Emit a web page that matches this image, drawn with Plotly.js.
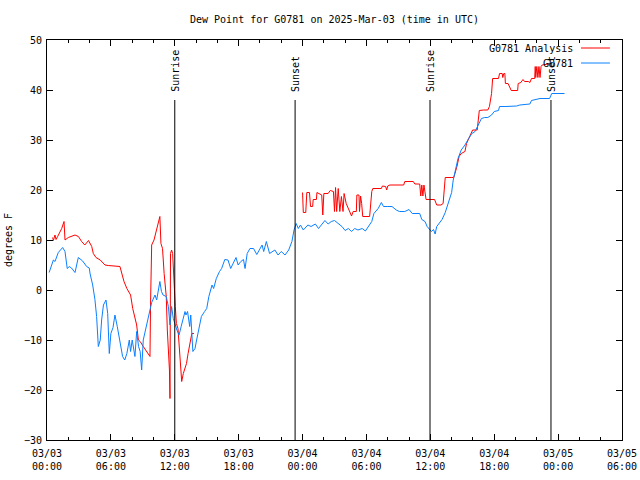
<!DOCTYPE html>
<html>
<head>
<meta charset="utf-8">
<script src="https://cdn.plot.ly/plotly-3.0.1.min.js"></script>
<style>html,body{margin:0;padding:0;background:#fff;}#chart{width:640px;height:480px;}</style>
</head>
<body>
<div id="chart"></div>
<script>
// Hours since 2025-03-03 00:00 UTC
const tickHours = [0, 6, 12, 18, 24, 30, 36, 42, 48, 54];
const tickLabels = ["03/03<br>00:00","03/03<br>06:00","03/03<br>12:00","03/03<br>18:00","03/04<br>00:00","03/04<br>06:00","03/04<br>12:00","03/04<br>18:00","03/05<br>00:00","03/05<br>06:00"];

const eventNames = ["Sunrise", "Sunset", "Sunrise", "Sunset"];
const eventHours = [12.0, 23.3, 35.97, 47.33];

const analysisName = "G0781 Analysis";
const analysisHours = [0.53,0.6,0.75,0.85,1.0,1.38,1.6,1.69,2.0,2.63,2.95,3.25,3.55,3.9,4.2,4.35,4.6,5.0,5.45,5.75,6.85,7.0,7.23,7.5,7.73,7.85,8.05,8.26,8.42,8.58,8.75,9.04,9.35,9.67,9.73,9.83,10.05,10.3,10.55,10.6,10.7,10.85,11.0,11.2,11.3,11.5,11.55,11.58,11.6,11.7,11.8,12.05,12.15,12.3,12.4,12.55,12.65,12.8,12.95,13.1,13.25,13.4,13.6,13.8,
  18.0,
  24.0,24.07,24.3,24.4,24.65,24.75,24.95,25.0,25.3,25.35,25.8,25.9,26.0,26.4,26.6,26.9,27.0,27.1,27.2,27.35,27.5,27.65,27.8,27.9,28.1,28.3,28.5,28.6,28.75,29.05,29.1,29.3,29.35,29.45,29.55,29.65,30.3,30.5,30.6,31.4,31.5,31.8,31.9,32.0,32.2,33.5,33.6,34.4,34.55,35.0,35.1,35.2,35.3,35.4,35.6,36.4,36.6,37.0,37.2,37.4,38.0,38.2,38.5,38.7,38.9,39.25,39.4,39.55,39.7,39.97,40.4,40.5,40.6,41.0,41.4,41.55,41.75,41.85,42.4,42.5,42.75,42.8,42.9,43.0,43.05,43.3,43.6,44.2,44.25,44.5,44.7,44.85,45.2,45.35,45.5,45.8,45.85,45.9,46.0,46.1,46.2,46.3,46.4,46.5,47.2,47.35];
const analysisDew = [10.5,9.9,11,10.1,10.7,12.3,13.7,10,10.5,11,10.7,9.7,9,9.9,8.7,7.3,6.5,6,5,4.9,4.7,3.3,1.7,0.3,-0.7,-1,-3.7,-5.3,-7,-10,-10.3,-11.3,-12.3,-13.3,-2,9,10,12,14,14.7,9.3,8.3,3.3,-1.3,-8,-16,-21.7,-13.3,7.3,8,7.3,-3.3,-6.7,-7.7,-10.7,-16.7,-18.3,-16.7,-15.7,-14.7,-12.7,-10.7,-8.7,-8.7,
  null,
  19.5,15.5,15.5,19.5,19.5,16.7,16.7,18.1,18.1,19.5,19.0,15,19.3,19.3,19.9,19.7,15.7,20.5,15.7,20.3,15.7,18.7,15.7,19.3,17.3,16.3,15.5,14.8,15.7,15.7,19,19,15.7,18.8,17.3,14.7,14.7,19.7,20.3,20.3,20.8,20.7,20,20.8,21,21,21.7,21.7,21.2,21.2,18.8,21,18.8,21,18.1,18.1,17,17,17.3,22.5,22.5,22.5,24.7,26.7,27.3,27.7,29.3,30,31,32,32,34,35.9,36,36,36.7,39.3,42.3,42.3,43.3,43.3,42.5,43.3,43.3,41.3,41.3,39.9,39.9,41.3,41.5,42.1,41.7,41.7,41.5,42.3,42.3,44.7,42.5,44.7,42.5,44.7,42.5,44.7,45,45.3,45.3];

const obsName = "G0781";
const obsHours = [0.2,0.6,0.75,1.06,1.47,1.69,1.9,2.1,2.3,2.63,2.94,3.35,3.72,3.97,4.05,4.29,4.5,4.66,4.82,5.0,5.13,5.3,5.54,5.7,5.85,6.0,6.2,6.38,6.6,6.85,7.1,7.3,7.5,7.73,7.85,8.0,8.26,8.42,8.6,8.75,8.89,9.04,9.3,9.5,9.83,10.14,10.3,10.6,10.75,10.9,11.2,11.4,11.55,11.7,11.86,12.2,12.4,12.6,12.8,12.96,13.05,13.2,13.4,13.5,13.7,13.9,14.05,14.3,14.5,14.8,15.0,15.2,15.5,15.65,15.9,16.2,16.4,16.7,17.0,17.25,17.5,17.75,17.95,18.2,18.45,18.6,18.8,19.06,19.4,19.7,20.2,20.35,20.6,20.9,21.4,21.7,22.0,22.35,22.7,23.0,23.2,23.4,23.6,23.8,24.07,24.5,24.8,25.2,25.5,25.8,26.1,26.4,26.7,27.0,27.4,27.7,28.0,28.3,28.6,28.9,29.2,29.6,29.9,30.2,30.5,30.7,31.1,31.4,31.6,32.0,32.4,32.8,33.1,33.6,34.0,34.3,35.0,35.2,35.5,35.7,35.96,36.1,36.3,36.45,36.6,36.9,37.1,37.4,37.6,37.8,38.0,38.15,38.4,38.6,38.9,39.25,39.6,39.9,40.2,40.5,40.8,41.1,41.4,41.75,42.0,42.4,42.5,43.1,44.1,44.4,45.35,45.5,46.1,46.3,47.2,47.4,48.6];
const obsDew = [3.5,6,5.7,7.5,8.5,7.7,4.3,4.7,4.4,3.5,6.5,5.8,4.7,4.4,3.2,1.0,-1.9,-5.3,-11.3,-10,-6,-3,-2,-4.7,-12.7,-8.7,-7.5,-5,-7.3,-10.3,-13.3,-14,-12.7,-10,-12.3,-10,-13.3,-8.3,-11.3,-12.3,-16,-10,-7.7,-5.7,-2.5,-1,-2,1.7,-0.3,-1,-1.3,-3.3,-7,-3.3,-5.7,-8,-9,-7.3,-5.7,-4.3,-5,-4.3,-7.3,-5,-12.3,-11.7,-10,-7,-5.3,-4.3,-3.7,-1.3,1,0.3,2.3,3.7,4.3,6.1,6,4.3,5.3,6.5,5,5.7,6.1,4.3,7.3,8.3,8.3,7.1,9,7.7,9.7,7.3,8,7,7.7,7,8,9.7,12,13.3,12.3,13.0,12,13,12.7,13.2,12.3,13,13.9,13.2,13.7,13.9,13.3,12.7,11.9,12.3,11.7,12.3,12,12.3,11.8,12.7,13.7,15.3,16.3,17.5,16.7,16.7,16.7,16,15.7,15.7,16.1,15.3,15.3,14.1,13.7,12.7,12,11.7,12.1,11.2,12.7,13.7,14.1,15.5,16.7,18.3,19.5,22,24.7,26.3,28,29,30.3,31.3,31.7,33,34.3,34.5,34.5,35,35.7,35.9,36.7,36.7,36.8,37,37.2,37.9,38.1,38.3,38.3,39.3,39.3];

const FONT = "DejaVu Sans Mono, monospace";
const RED = "#ff0000";
const BLUE = "#0a80ff";

const traces = [
  {x: analysisHours, y: analysisDew, name: analysisName, type: "scatter", mode: "lines",
   line: {color: RED, width: 1}, connectgaps: false, hoverinfo: "skip"},
  {x: obsHours, y: obsDew, name: obsName, type: "scatter", mode: "lines",
   line: {color: BLUE, width: 1}, hoverinfo: "skip"}
];

const shapes = eventHours.map(h => ({
  type: "line", xref: "x", yref: "y", x0: h, x1: h, y0: -30, y1: 38,
  line: {color: "black", width: 1}, layer: "above"
}));
const annotations = eventHours.map((h, i) => ({
  x: h, y: 39.2, xref: "x", yref: "y", text: eventNames[i], showarrow: false,
  textangle: -90, xanchor: "center", yanchor: "bottom",
  font: {family: FONT, size: 10, color: "black"}
}));

// legend (gnuplot style: text then sample line)
const legendEntries = [[analysisName, RED], [obsName, BLUE]];
legendEntries.forEach((e, i) => {
  const yp = 0.98 - i * 0.0375;
  annotations.push({x: 0.918, y: yp, xref: "paper", yref: "paper", text: e[0], showarrow: false,
    xanchor: "right", yanchor: "middle", font: {family: FONT, size: 10, color: "black"}});
  shapes.push({type: "line", xref: "paper", yref: "paper", x0: 0.9287, x1: 0.979, y0: yp, y1: yp,
    line: {color: e[1], width: 1}});
});

const layout = {
  width: 640, height: 480,
  margin: {l: 47, r: 18, t: 40, b: 40, pad: 0},
  paper_bgcolor: "white", plot_bgcolor: "white",
  showlegend: false,
  font: {family: FONT, size: 10, color: "black"},
  title: {text: "Dew Point for G0781 on 2025-Mar-03 (time in UTC)", font: {family: FONT, size: 10, color: "black"},
    x: 0.5, xref: "paper", y: 0.96, yref: "container", yanchor: "middle"},
  xaxis: {range: [0, 54], tickmode: "array", tickvals: tickHours, ticktext: tickLabels,
    ticks: "inside", ticklen: 6, tickcolor: "black", mirror: "ticks", showline: true, linecolor: "black", linewidth: 1,
    showgrid: false, zeroline: false, tickfont: {family: FONT, size: 10, color: "black"}, ticklabelstandoff: 4,
    minor: {dtick: 2, tick0: 0, ticks: "inside", ticklen: 3, tickcolor: "black", showgrid: false}},
  yaxis: {range: [-30, 50], dtick: 10, tick0: 0, ticks: "inside", ticklen: 6, tickcolor: "black", mirror: "ticks",
    showline: true, linecolor: "black", linewidth: 1, showgrid: false, zeroline: false,
    tickfont: {family: FONT, size: 10, color: "black"}, ticklabelstandoff: 2,
    title: {text: "degrees F", font: {family: FONT, size: 10, color: "black"}, standoff: 9}},
  shapes: shapes,
  annotations: annotations
};

Plotly.newPlot("chart", traces, layout, {staticPlot: true, displayModeBar: false});
</script>
</body>
</html>
